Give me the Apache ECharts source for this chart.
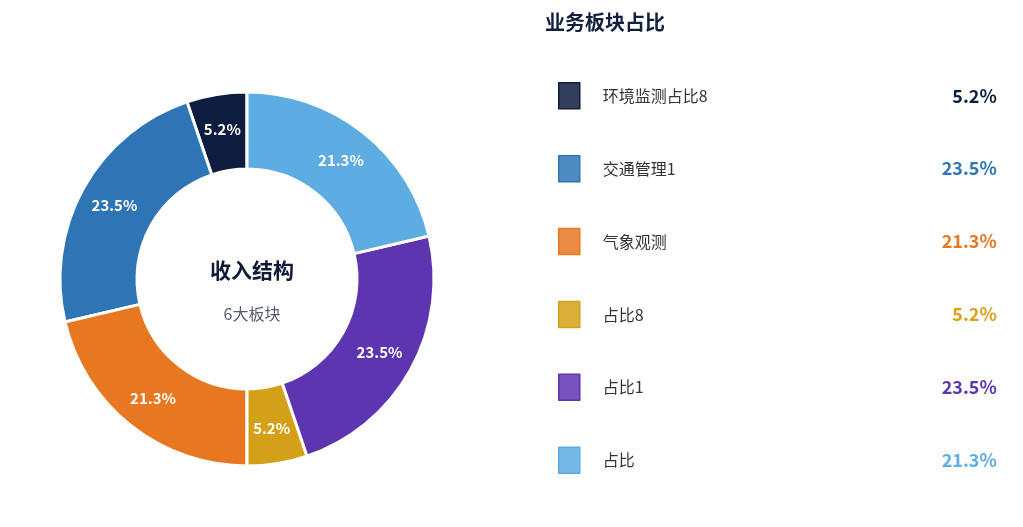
<!DOCTYPE html>
<html>
<head>
    <meta charset="utf-8">
    <script src="https://cdn.jsdelivr.net/npm/echarts@6/dist/echarts.min.js"></script>
    <style>
        html, body { margin: 0; padding: 0; background: #fff; }
    </style>
</head>
<body>
<div id="main" style="width: 1023px;height:527px;"></div>

<script type="text/javascript">
    // 数据
    var names = ['环境监测占比8', '交通管理1', '气象观测', '占比8', '占比1', '占比'];
    var values = [5.2, 23.5, 21.3, 5.2, 23.5, 21.3];
    var colors = ['#0e1c3f', '#2e75b6', '#e87722', '#d4a017', '#5e35b1', '#5dade2'];
    var textColors = ['#0e1c3f', '#2e75b6', '#e87722', '#d9a21a', '#5e35b1', '#5dade2'];

    function lighten(hex, a) {
        var r = parseInt(hex.substr(1, 2), 16), g = parseInt(hex.substr(3, 2), 16), b = parseInt(hex.substr(5, 2), 16);
        return 'rgba(' + r + ',' + g + ',' + b + ',' + a + ')';
    }

    var font = '"Noto Sans CJK SC", "Noto Sans", sans-serif';

    var rich = {
        n: { fontSize: 16, color: '#333', width: 300, lineHeight: 26, padding: [0, 0, 0, 18], fontFamily: font }
    };
    colors.forEach(function (c, i) {
        rich['p' + i] = { fontSize: 18, fontWeight: 'bold', color: textColors[i], width: 94, lineHeight: 26, align: 'right', fontFamily: font };
    });

    var pieData = names.map(function (n, i) {
        return { name: n, value: values[i], itemStyle: { color: colors[i] } };
    });

    var dom = document.getElementById('main');
    var myChart = echarts.init(dom);
    var option = {
        backgroundColor: '#fff',
        animation: false,
        title: [{
            text: '业务板块占比',
            left: 540,
            top: 7,
            textStyle: { fontSize: 20, fontWeight: 'bold', color: '#13203f', fontFamily: font }
        }, {
            text: '收入结构',
            subtext: '6大板块',
            left: 247,
            top: 255,
            textAlign: 'center',
            itemGap: 25,
            textStyle: { fontSize: 21, fontWeight: 'bold', color: '#101b38', fontFamily: font },
            subtextStyle: { fontSize: 16, color: '#555a70', fontFamily: font }
        }],
        legend: {
            orient: 'vertical',
            left: 553,
            top: 77,
            itemWidth: 21,
            itemHeight: 26,
            itemGap: 45.4,
            icon: 'rect',
            selectedMode: false,
            data: names.map(function (n, i) {
                return { name: n, itemStyle: { color: lighten(colors[i], 0.85), borderColor: colors[i], borderWidth: 1.5 } };
            }),
            formatter: function (name) {
                var i = names.indexOf(name);
                return '{n|' + name + '}{p' + i + '|' + values[i].toFixed(1) + '%}';
            },
            textStyle: { rich: rich }
        },
        series: [{
            type: 'pie',
            center: [247, 279],
            radius: [110, 187],
            startAngle: 90,
            clockwise: false,
            itemStyle: { borderColor: '#fff', borderWidth: 3 },
            label: {
                show: true,
                position: 'inside',
                color: '#fff',
                fontSize: 15,
                fontWeight: 'bold',
                fontFamily: font,
                formatter: function (p) { return p.value.toFixed(1) + '%'; }
            },
            labelLine: { show: false },
            data: pieData
        }]
    };
    myChart.setOption(option);
</script>
</body>
</html>
